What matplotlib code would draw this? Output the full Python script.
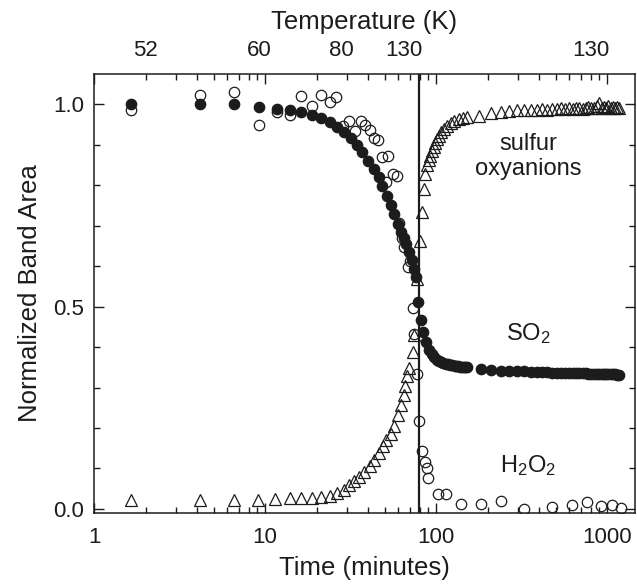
import matplotlib
matplotlib.use("Agg")
import matplotlib.pyplot as plt
from matplotlib.ticker import MultipleLocator, LogLocator, NullFormatter, FixedLocator

plt.rcParams["font.family"] = ["Liberation Sans", "DejaVu Sans"]
plt.rcParams["mathtext.fontset"] = "custom"
plt.rcParams["mathtext.rm"] = "Liberation Sans"
plt.rcParams["mathtext.it"] = "Liberation Sans:italic"

# ---- data (time in minutes, normalized band area) ----
t_so2 = [1.64, 4.15, 6.55, 9.17, 11.7, 13.9, 16.3, 18.7, 21.3, 23.8, 26.5, 29.1,
         31.9, 34.6, 37.0, 40.1, 43.4, 46.5, 48.4, 51.8, 54.5, 57.0, 59.5, 62.0,
         64.5, 67.0, 69.6, 72.0, 74.5, 76.2, 78.5, 81.0, 84.2, 87.6, 91.3, 94.5,
         97.5, 101, 104, 107, 110, 114, 117, 121, 124, 128, 131, 135, 138, 141,
         145, 148, 152, 183, 209, 239, 267, 297, 327, 357, 387, 417, 447, 477,
         507, 537, 567, 597, 627, 657, 687, 717, 747, 777, 807, 837, 867, 897,
         927, 957, 987, 1017, 1047, 1077, 1107, 1137, 1167]
y_so2 = [1.0, 1.0, 1.0, 0.993, 0.988, 0.985, 0.980, 0.973, 0.966, 0.956, 0.943, 0.931,
         0.916, 0.899, 0.882, 0.860, 0.840, 0.820, 0.798, 0.773, 0.750, 0.730, 0.705, 0.685,
         0.670, 0.655, 0.635, 0.615, 0.594, 0.574, 0.512, 0.466, 0.438, 0.413, 0.393, 0.383,
         0.375, 0.369, 0.365, 0.362, 0.360, 0.358, 0.357, 0.356, 0.355, 0.354, 0.353, 0.353,
         0.352, 0.352, 0.351, 0.350, 0.350, 0.347, 0.344, 0.342, 0.341, 0.340, 0.340, 0.339,
         0.339, 0.338, 0.338, 0.337, 0.337, 0.337, 0.336, 0.336, 0.336, 0.335, 0.335, 0.335,
         0.335, 0.334, 0.334, 0.334, 0.334, 0.334, 0.333, 0.333, 0.333, 0.333, 0.333, 0.333,
         0.333, 0.332, 0.332]

t_h2o2 = [1.64, 4.15, 6.55, 9.17, 11.7, 13.9, 16.3, 18.9, 21.3, 23.8, 26.0, 28.7,
          31.0, 33.7, 36.5, 38.6, 41.3, 43.5, 46.0, 48.4, 51.2, 52.6, 56.2, 59.2,
          60.5, 62.8, 65.3, 68.6, 70.0, 72.8, 74.5, 77.6, 79.5, 83.0, 86.0, 88.5,
          90.0, 102.6, 114, 140, 183, 239, 326, 477, 620, 760, 915, 1060, 1200]
y_h2o2 = [0.985, 1.022, 1.030, 0.950, 0.980, 0.973, 1.020, 0.995, 1.022, 1.005, 1.017, 0.946,
          0.960, 0.933, 0.960, 0.948, 0.936, 0.916, 0.911, 0.869, 0.808, 0.872, 0.828, 0.823,
          0.707, 0.670, 0.648, 0.598, 0.613, 0.497, 0.433, 0.333, 0.217, 0.143, 0.116, 0.101,
          0.076, 0.037, 0.037, 0.013, 0.012, 0.020, 0.000, 0.005, 0.010, 0.017, 0.007, 0.010,
          0.003]

t_oxy = [1.64, 4.15, 6.55, 9.1, 11.5, 13.9, 16.3, 18.7, 21.3, 23.8, 26.5, 29.1,
         31.0, 33.3, 35.6, 38.0, 41.3, 43.5, 46.5, 49.0, 51.2, 54.2, 57.0, 60.0,
         62.6, 64.5, 66.0, 67.6, 69.6, 72.8, 74.5, 77.6, 80.8, 83.0, 85.0, 86.5,
         88.5, 90.5, 92.5, 95.0, 97.0, 98.7, 101.6, 104, 107, 111, 116, 122,
         127, 136, 144, 152, 178, 209, 239, 267, 297, 327, 357, 387, 417, 447,
         477, 507, 537, 567, 597, 627, 657, 687, 717, 747, 777, 807, 837, 867,
         897, 927, 957, 987, 1017, 1047, 1077, 1107, 1137, 1167]
y_oxy = [0.023, 0.023, 0.023, 0.023, 0.025, 0.026, 0.027, 0.027, 0.029, 0.033, 0.040, 0.048,
         0.058, 0.068, 0.079, 0.092, 0.106, 0.121, 0.138, 0.155, 0.170, 0.185, 0.205, 0.232,
         0.256, 0.281, 0.305, 0.328, 0.348, 0.389, 0.431, 0.569, 0.663, 0.734, 0.790, 0.828,
         0.850, 0.862, 0.872, 0.885, 0.894, 0.905, 0.915, 0.921, 0.931, 0.938, 0.946, 0.953,
         0.958, 0.963, 0.966, 0.968, 0.970, 0.978, 0.980, 0.983, 0.985, 0.986, 0.985, 0.987,
         0.988, 0.986, 0.989, 0.988, 0.990, 0.989, 0.991, 0.988, 0.990, 0.992, 0.989, 0.991,
         0.993, 0.990, 0.992, 0.995, 1.003, 0.991, 0.993, 0.990, 0.995, 0.992, 0.994, 0.991,
         0.993, 0.992]

t_switch = 79.0   # vertical marker (minutes)

# top axis: temperature labels placed at time positions
temp_pos = [2.0, 9.3, 27.8, 65.0, 800.0]
temp_labels = ["52", "60", "80", "130", "130"]

x_ticks = [1, 10, 100, 1000]
x_ticklabels = ["1", "10", "100", "1000"]
y_ticks = [0.0, 0.5, 1.0]
y_ticklabels = ["0.0", "0.5", "1.0"]

# ---- plot ----
ink = "#1c1c1c"
fig = plt.figure(figsize=(6.37, 5.84), dpi=100)
ax = fig.add_axes([0.1476, 0.1216, 0.849, 0.7517])

ax.axvline(t_switch, color=ink, lw=1.6, zorder=2)
ax.plot(t_oxy, y_oxy, ls="none", marker="^", ms=9, mfc="none", mec=ink, mew=0.9, zorder=3)
ax.plot(t_h2o2, y_h2o2, ls="none", marker="o", ms=7.5, mfc="none", mec=ink, mew=0.9, zorder=3)
ax.plot(t_so2, y_so2, ls="none", marker="o", ms=7.5, mfc=ink, mec=ink, mew=0.9, zorder=4)

ax.set_xscale("log")
ax.set_xlim(1, 1450)
ax.set_ylim(-0.01, 1.075)

ax.set_xticks(x_ticks, labels=x_ticklabels)
ax.xaxis.set_minor_locator(LogLocator(base=10, subs=range(2, 10), numticks=20))
ax.xaxis.set_minor_formatter(NullFormatter())
ax.set_yticks(y_ticks, labels=y_ticklabels)
ax.yaxis.set_minor_locator(MultipleLocator(0.1))

for s in ax.spines.values():
    s.set_linewidth(1.1)
    s.set_color(ink)

# annotations
ax.text(344, 0.871, "sulfur\noxyanions", ha="center", va="center", fontsize=17,
        color=ink, linespacing=1.15)
ax.text(344, 0.433, "SO$_2$", ha="center", va="center", fontsize=17, color=ink)
ax.text(344, 0.108, "H$_2$O$_2$", ha="center", va="center", fontsize=17, color=ink)

ax.set_xlabel("Time (minutes)", fontsize=18.5, color=ink, labelpad=6)
ax.set_ylabel("Normalized Band Area", fontsize=18.5, color=ink, labelpad=8)

# top temperature scale
top = ax.twiny()
top.set_xscale("log")
top.set_xlim(ax.get_xlim())
top.xaxis.set_major_locator(FixedLocator(temp_pos))
top.set_xticklabels(temp_labels)
top.xaxis.set_minor_locator(FixedLocator([]))
top.tick_params(axis="x", length=0, pad=9, labelsize=16, colors=ink)
top.set_xlabel("Temperature (K)", fontsize=18.5, color=ink, labelpad=8)
for s in top.spines.values():
    s.set_visible(False)

ax.tick_params(which="both", direction="in", top=True, right=True, colors=ink, width=1.0)
ax.tick_params(which="major", length=7, labelsize=16)
ax.tick_params(which="minor", length=4)
ax.tick_params(axis="x", which="major", pad=10)
ax.tick_params(axis="y", which="major", pad=7)

fig.savefig("out.png", dpi=100)
